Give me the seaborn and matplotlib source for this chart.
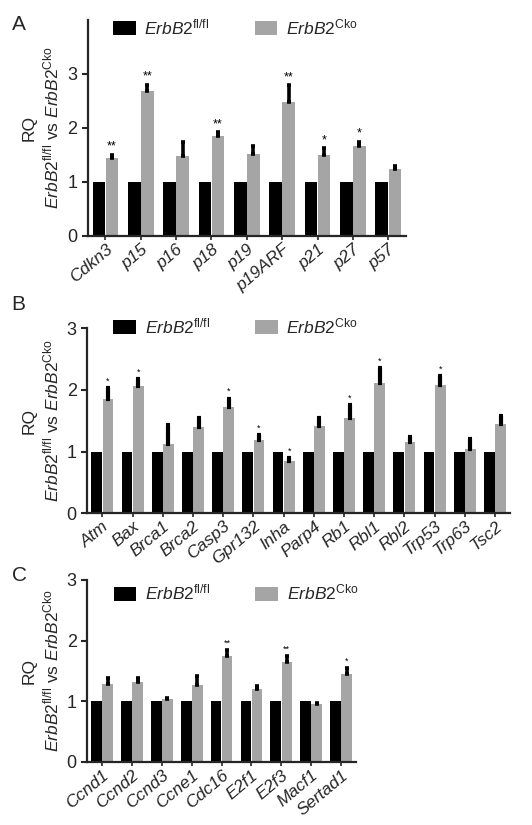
import numpy as np
import pandas as pd
import matplotlib
matplotlib.use("Agg")
import matplotlib.pyplot as plt
import seaborn as sns

sns.set_style("ticks")
plt.rcParams['font.family'] = ['Liberation Sans', 'DejaVu Sans']
plt.rcParams['mathtext.fontset'] = 'custom'
plt.rcParams['mathtext.rm'] = 'Liberation Sans'
plt.rcParams['mathtext.it'] = 'Liberation Sans:italic'
plt.rcParams['mathtext.bf'] = 'Liberation Sans:bold'

# ---- data ----
genes_a = ["Cdkn3", "p15", "p16", "p18", "p19", "p19ARF", "p21", "p27", "p57"]
ctrl_a = [1, 1, 1, 1, 1, 1, 1, 1, 1]
cko_a = [1.45, 2.68, 1.48, 1.85, 1.52, 2.48, 1.50, 1.66, 1.24]
err_a = [0.05, 0.12, 0.25, 0.07, 0.14, 0.31, 0.12, 0.08, 0.05]
sig_a = ["**", "**", "", "**", "", "**", "*", "*", ""]

genes_b = ["Atm", "Bax", "Brca1", "Brca2", "Casp3", "Gpr132", "Inha", "Parp4",
           "Rb1", "Rbl1", "Rbl2", "Trp53", "Trp63", "Tsc2"]
ctrl_b = [1] * 14
cko_b = [1.85, 2.06, 1.13, 1.40, 1.73, 1.19, 0.85, 1.42, 1.55, 2.11, 1.16, 2.08, 1.04, 1.45]
err_b = [0.18, 0.12, 0.30, 0.15, 0.13, 0.08, 0.05, 0.12, 0.21, 0.24, 0.08, 0.14, 0.16, 0.12]
sig_b = ["*", "*", "", "", "*", "*", "*", "", "*", "*", "", "*", "", ""]

genes_c = ["Ccnd1", "Ccnd2", "Ccnd3", "Ccne1", "Cdc16", "E2f1", "E2f3", "Macf1", "Sertad1"]
ctrl_c = [1] * 9
cko_c = [1.28, 1.31, 1.03, 1.27, 1.75, 1.21, 1.65, 0.95, 1.45]
err_c = [0.10, 0.08, 0.03, 0.14, 0.09, 0.04, 0.09, 0.03, 0.10]
sig_c = ["", "", "", "", "**", "", "**", "", "*"]

groups = ["fl/fl", "Cko"]
legend_labels = [r"$\mathit{ErbB2}^{\mathrm{fl/fl}}$", r"$\mathit{ErbB2}^{\mathrm{Cko}}$"]
colors = ["#000000", "#a5a5a5"]
ylabel = "RQ\n" + r"$\mathit{ErbB2}^{\mathrm{fl/fl}}$ vs $\mathit{ErbB2}^{\mathrm{Cko}}$"

fig = plt.figure(figsize=(5.32, 8.25), dpi=100)

panels = [
    ("A", genes_a, ctrl_a, cko_a, err_a, sig_a, [0.165, 0.714, 0.598, 0.262], 4.0, 9, 2.6,
     (0.03, 1.085), 0.982),
    ("B", genes_b, ctrl_b, cko_b, err_b, sig_b, [0.164, 0.378, 0.795, 0.224], 3.0, 6.5, 3.0,
     (0.025, 1.15), 0.642),
    ("C", genes_c, ctrl_c, cko_c, err_c, sig_c, [0.164, 0.0764, 0.505, 0.2206], 3.0, 6.5, 2.6,
     (0.04, 1.07), 0.314),
]

for letter, genes, ctrl, cko, err, sig, pos, ymax, starfs, elw, lanchor, ly in panels:
    ax = fig.add_axes(pos)
    df = pd.DataFrame({
        "gene": genes * 2,
        "group": [groups[0]] * len(genes) + [groups[1]] * len(genes),
        "value": list(ctrl) + list(cko),
    })
    sns.barplot(data=df, x="gene", y="value", hue="group", palette=colors,
                width=0.74, gap=0.04, errorbar=None, ax=ax, saturation=1,
                edgecolor="none")
    bars = ax.containers[1]
    xs = [b.get_x() + b.get_width() / 2 for b in bars]
    ax.errorbar(xs, cko, yerr=[np.zeros(len(err)), err], fmt="none",
                ecolor="black", elinewidth=elw, capsize=1.2, capthick=elw)
    for x, v, e, s in zip(xs, cko, err, sig):
        if s:
            ax.text(x, v + e + 0.04, s, ha="center", va="bottom",
                    fontsize=starfs, color="black")
    ax.set_ylim(0, ymax)
    ax.set_yticks([0, 1, 2, 3])
    ax.set_xlim(-0.5, len(genes) - 0.5)
    ax.set_xlabel("")
    ax.set_ylabel(ylabel, fontsize=12.5, linespacing=1.3, labelpad=4)
    ax.tick_params(axis="y", labelsize=13, width=1.5, length=4)
    ax.tick_params(axis="x", labelsize=12.5, width=1.2, length=3, pad=1)
    ax.set_xticks(range(len(genes)))
    ax.set_xticklabels(genes, rotation=40, ha="right", rotation_mode="anchor",
                       style="italic")
    for sp in ["left", "bottom"]:
        ax.spines[sp].set_linewidth(1.6)
    sns.despine(ax=ax)
    handles, _ = ax.get_legend_handles_labels()
    ax.legend(handles, legend_labels, loc="upper left", bbox_to_anchor=lanchor,
              ncol=2, frameon=False, fontsize=12.5, handlelength=1.3,
              handleheight=0.9, columnspacing=2.6, handletextpad=0.5)
    fig.text(0.022, ly, letter, fontsize=15, va="top", ha="left")

fig.savefig("out.png", dpi=100)
